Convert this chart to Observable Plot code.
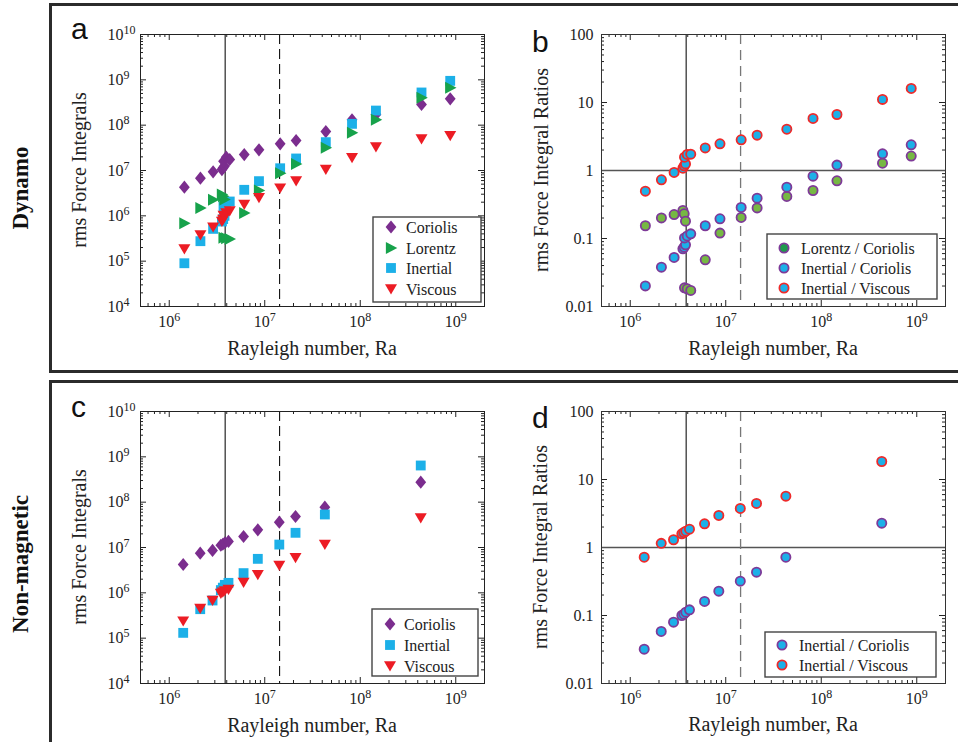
<!DOCTYPE html>
<html><head><meta charset="utf-8">
<script src="https://cdn.jsdelivr.net/npm/d3@7"></script>
<script src="https://cdn.jsdelivr.net/npm/@observablehq/plot@0.6"></script>
<style>
body{margin:0;background:#fff;}
#root{position:relative;width:958px;height:742px;overflow:hidden;background:#fff;font-family:"Liberation Serif","Times New Roman",serif;}
.frame{position:absolute;border:3px solid #2b2b2b;box-sizing:border-box;}
.panel{position:absolute;}
#overlay{position:absolute;left:0;top:0;pointer-events:none;}
</style></head><body>
<div id="root">
<div class="frame" style="left:49px;top:3px;width:940px;height:370px"></div>
<div class="frame" style="left:49px;top:380px;width:940px;height:420px"></div>
<div class="panel" id="pa" style="left:60px;top:0px"></div>
<div class="panel" id="pb" style="left:500px;top:0px"></div>
<div class="panel" id="pc" style="left:60px;top:377px"></div>
<div class="panel" id="pd" style="left:500px;top:377px"></div>
<svg id="overlay" width="958" height="742"></svg>
</div>
<script>
// ---------------- data ----------------
const raTicks = [1e6, 1e7, 1e8, 1e9];
const forceTicks = [1e4, 1e5, 1e6, 1e7, 1e8, 1e9, 1e10];
const ratioTicks = [0.01, 0.1, 1, 10, 100];
const onsetRa = 3.85e6;      // solid vertical line
const transitionRa = 1.43e7; // dashed vertical line

// Dynamo cases
const raDynamo     = [1.44e6, 2.12e6, 2.88e6, 3.56e6, 3.67e6, 3.79e6, 3.70e6, 3.95e6, 4.3e6, 6.1e6, 8.7e6, 1.45e7, 2.13e7, 4.36e7, 8.2e7, 1.46e8, 4.38e8, 8.75e8];
const coriolisDyn  = [4.28e6, 6.78e6, 9.35e6, 1.05e7, 1.15e7, 1.25e7, 1.6e7, 1.97e7, 1.75e7, 2.25e7, 2.86e7, 3.87e7, 4.59e7, 7.24e7, 1.31e8, 1.72e8, 2.86e8, 3.81e8];
const lorentzDyn   = [6.88e5, 1.48e6, 2.25e6, 2.95e6, 2.7e6, 2.3e6, 3.3e5, 3.2e5, 3.1e5, 1.15e6, 3.62e6, 8.73e6, 1.4e7, 3.16e7, 6.78e7, 1.31e8, 4.0e8, 6.67e8];
const inertialDyn  = [9.0e4, 2.76e5, 5.16e5, 7.5e5, 8.5e5, 1.0e6, 1.6e6, 1.97e6, 2.07e6, 3.75e6, 5.82e6, 1.12e7, 1.84e7, 4.22e7, 1.07e8, 2.1e8, 5.26e8, 9.5e8];
const viscousDyn   = [1.84e5, 3.75e5, 5.62e5, 7.5e5, 8.3e5, 9.5e5, 1.02e6, 1.15e6, 1.27e6, 1.78e6, 2.5e6, 4.07e6, 5.82e6, 1.05e7, 1.9e7, 3.27e7, 4.91e7, 5.82e7];
const lorCorDyn    = [0.154, 0.201, 0.225, 0.258, 0.231, 0.180, 0.0188, 0.0182, 0.0172, 0.0486, 0.120, 0.204, 0.282, 0.415, 0.508, 0.705, 1.28, 1.63];
const inCorDyn     = [0.0201, 0.0379, 0.0526, 0.0705, 0.0745, 0.0807, 0.102, 0.109, 0.117, 0.154, 0.195, 0.286, 0.392, 0.569, 0.826, 1.20, 1.76, 2.39];
const inVisDyn     = [0.497, 0.73, 0.935, 1.08, 1.17, 1.25, 1.57, 1.72, 1.74, 2.15, 2.47, 2.83, 3.31, 4.05, 5.82, 6.66, 11.1, 16.1];

// Non-magnetic cases
const raNM        = [1.4e6, 2.11e6, 2.84e6, 3.47e6, 3.64e6, 3.82e6, 4.17e6, 6.0e6, 8.46e6, 1.42e7, 2.1e7, 4.26e7, 4.3e8];
const coriolisNM  = [4.22e6, 7.5e6, 8.6e6, 1.12e7, 1.18e7, 1.26e7, 1.36e7, 1.75e7, 2.45e7, 3.62e7, 4.83e7, 7.74e7, 2.76e8];
const inertialNM  = [1.31e5, 4.36e5, 6.78e5, 1.15e6, 1.3e6, 1.5e6, 1.66e6, 2.72e6, 5.62e6, 1.16e7, 2.11e7, 5.35e7, 6.44e8];
const viscousNM   = [2.37e5, 4.51e5, 6.78e5, 9.6e5, 1.03e6, 1.1e6, 1.18e6, 1.69e6, 2.49e6, 4.0e6, 5.92e6, 1.16e7, 4.44e7];
const inCorNM     = [0.032, 0.0582, 0.0798, 0.100, 0.1047, 0.112, 0.121, 0.161, 0.228, 0.320, 0.434, 0.72, 2.28];
const inVisNM     = [0.72, 1.15, 1.30, 1.59, 1.66, 1.74, 1.86, 2.23, 2.96, 3.75, 4.44, 5.69, 18.4];

// ---------------- styling ----------------
const PURPLE = "#7b2d8e", GREEN = "#17a24b", CYAN = "#1cb0e8", RED = "#ec1c24";
const RING_PURPLE = "#7e3a98", LGREEN = "#76b843", DGREEN = "#1e9a4c", RING_RED = "#ee2a2a";
const raDomain = [5e5, 2e9], forceDomain = [1e4, 1e10], ratioDomain = [0.01, 100];
const PW = 344, PH = 272;

const diamond = {draw(c, s){const r=Math.sqrt(s/Math.PI),w=0.9*r,h=1.1*r;c.moveTo(0,-h);c.lineTo(w,0);c.lineTo(0,h);c.lineTo(-w,0);c.closePath();}};
const triRight = {draw(c, s){const r=Math.sqrt(s/Math.PI);c.moveTo(-0.85*r,-r);c.lineTo(1.05*r,0);c.lineTo(-0.85*r,r);c.closePath();}};
const triDown = {draw(c, s){const r=Math.sqrt(s/Math.PI);c.moveTo(-r,-0.8*r);c.lineTo(r,-0.8*r);c.lineTo(0,0.9*r);c.closePath();}};
const square = {draw(c, s){const r=Math.sqrt(s/Math.PI),h=0.82*r;c.rect(-h,-h,2*h,2*h);}};

const rows = (xs, ys) => xs.map((x, i) => ({ra: x, v: ys[i]}));
function logMinor([lo, hi]) {
  const out = [];
  for (let k = Math.floor(Math.log10(lo)); k <= Math.ceil(Math.log10(hi)); k++)
    for (let m = 2; m <= 9; m++) { const v = m * Math.pow(10, k); if (v > lo && v < hi) out.push(v); }
  return out;
}
const pow10 = d => "10^" + Math.round(Math.log10(d));

function boxTicks(yDomain, yMajor) {
  const xMinor = logMinor(raDomain), yMinor = logMinor(yDomain);
  const st = {stroke: "#222", strokeWidth: 1};
  return [
    Plot.tickX(raTicks, {x: d => d, insetTop: PH - 6, ...st}),
    Plot.tickX(raTicks, {x: d => d, insetBottom: PH - 6, ...st}),
    Plot.tickX(xMinor, {x: d => d, insetTop: PH - 3, ...st}),
    Plot.tickX(xMinor, {x: d => d, insetBottom: PH - 3, ...st}),
    Plot.tickY(yMajor, {y: d => d, insetRight: PW - 6, ...st}),
    Plot.tickY(yMajor, {y: d => d, insetLeft: PW - 6, ...st}),
    Plot.tickY(yMinor, {y: d => d, insetRight: PW - 3, ...st}),
    Plot.tickY(yMinor, {y: d => d, insetLeft: PW - 3, ...st})
  ];
}

const baseStyle = {fontFamily: '"Liberation Serif","Times New Roman",serif', fontSize: "16px", color: "#222", background: "transparent", overflow: "visible"};

function supify(svg) {
  const NS = "http://www.w3.org/2000/svg";
  svg.querySelectorAll("text").forEach(t => {
    const m = t.textContent.match(/^10\^(-?\d+)$/);
    if (m) {
      t.textContent = "10";
      const ts = document.createElementNS(NS, "tspan");
      ts.setAttribute("dy", "-6");
      ts.setAttribute("font-size", "12");
      ts.textContent = m[1];
      t.appendChild(ts);
    }
  });
  return svg;
}

function forcePlot(height, mb, series) {
  return supify(Plot.plot({
    width: 440, height, marginLeft: 80, marginRight: 16, marginTop: 34, marginBottom: mb,
    x: {type: "log", domain: raDomain}, y: {type: "log", domain: forceDomain},
    style: baseStyle,
    marks: [
      ...boxTicks(forceDomain, forceTicks),
      Plot.ruleX([onsetRa], {stroke: "#111", strokeWidth: 1.1}),
      Plot.ruleX([transitionRa], {stroke: "#111", strokeWidth: 1.1, strokeDasharray: "10,5"}),
      ...series.map(s => Plot.dot(rows(s.ra, s.v), {x: "ra", y: "v", symbol: s.symbol, r: 6, fill: s.fill})),
      Plot.frame({stroke: "#222", strokeWidth: 1}),
      Plot.axisX(raTicks, {anchor: "bottom", tickSize: 0, tickPadding: 9, tickFormat: pow10, label: null}),
      Plot.axisY(forceTicks, {anchor: "left", tickSize: 0, tickPadding: 33, textAnchor: "start", tickFormat: pow10, label: null})
    ]
  }));
}

function ratioPlot(height, mb, series) {
  return supify(Plot.plot({
    width: 458, height, marginLeft: 101, marginRight: 13, marginTop: 34, marginBottom: mb,
    x: {type: "log", domain: raDomain}, y: {type: "log", domain: ratioDomain},
    style: baseStyle,
    marks: [
      ...boxTicks(ratioDomain, ratioTicks),
      Plot.ruleY([1], {stroke: "#555", strokeWidth: 1.5}),
      Plot.ruleX([onsetRa], {stroke: "#111", strokeWidth: 1.1}),
      Plot.ruleX([transitionRa], {stroke: "#777", strokeWidth: 1.3, strokeDasharray: "10,6"}),
      ...series.map(s => Plot.dot(rows(s.ra, s.v), {x: "ra", y: "v", r: 4.6, fill: s.fill, stroke: s.stroke, strokeWidth: 1.8})),
      Plot.frame({stroke: "#333", strokeWidth: 1}),
      Plot.axisX(raTicks, {anchor: "bottom", tickSize: 0, tickPadding: 9, tickFormat: pow10, label: null}),
      Plot.axisY(ratioTicks, {anchor: "left", tickSize: 0, tickPadding: 8, tickFormat: d => String(d), label: null})
    ]
  }));
}

document.getElementById("pa").appendChild(forcePlot(370, 64, [
  {ra: raDynamo, v: coriolisDyn, symbol: diamond, fill: PURPLE},
  {ra: raDynamo, v: inertialDyn, symbol: square, fill: CYAN},
  {ra: raDynamo, v: lorentzDyn, symbol: triRight, fill: GREEN},
  {ra: raDynamo, v: viscousDyn, symbol: triDown, fill: RED}
]));
document.getElementById("pb").appendChild(ratioPlot(370, 64, [
  {ra: raDynamo, v: inVisDyn, fill: CYAN, stroke: RING_RED},
  {ra: raDynamo, v: lorCorDyn, fill: LGREEN, stroke: RING_PURPLE},
  {ra: raDynamo, v: inCorDyn, fill: CYAN, stroke: RING_PURPLE}
]));
document.getElementById("pc").appendChild(forcePlot(365, 59, [
  {ra: raNM, v: coriolisNM, symbol: diamond, fill: PURPLE},
  {ra: raNM, v: inertialNM, symbol: square, fill: CYAN},
  {ra: raNM, v: viscousNM, symbol: triDown, fill: RED}
]));
document.getElementById("pd").appendChild(ratioPlot(365, 59, [
  {ra: raNM, v: inVisNM, fill: CYAN, stroke: RING_RED},
  {ra: raNM, v: inCorNM, fill: CYAN, stroke: RING_PURPLE}
]));

// ---------------- overlay: titles, letters, legends ----------------
const ov = d3.select("#overlay");
const serif = '"Liberation Serif","Times New Roman",serif';
const sans = '"Liberation Sans",Arial,sans-serif';
[["a",71,39],["b",532,52],["c",71,417],["d",532,428]].forEach(([t,x,y]) =>
  ov.append("text").attr("x", x).attr("y", y).attr("font-family", sans).attr("font-size", 30).attr("fill", "#111").text(t));
[[312,355],[773,355],[312,732],[773,731]].forEach(([x,y]) =>
  ov.append("text").attr("x", x).attr("y", y).attr("text-anchor", "middle").attr("font-family", serif).attr("font-size", 20).attr("fill", "#222").text("Rayleigh number, Ra"));
[["rms Force Integrals",86,170],["rms Force Integral Ratios",548,170],["rms Force Integrals",86,547],["rms Force Integral Ratios",547,547]].forEach(([t,x,y]) =>
  ov.append("text").attr("transform", `translate(${x},${y}) rotate(-90)`).attr("text-anchor", "middle").attr("font-family", serif).attr("font-size", 20).attr("fill", "#222").text(t));
[["Dynamo",28,188],["Non-magnetic",28,564]].forEach(([t,x,y]) =>
  ov.append("text").attr("transform", `translate(${x},${y}) rotate(-90)`).attr("text-anchor", "middle").attr("font-family", serif).attr("font-weight", "bold").attr("font-size", 23).attr("fill", "#111").text(t));

function legend(box, symX, textX, entries) {
  const [x0, y0, x1, y1] = box;
  ov.append("rect").attr("x", x0).attr("y", y0).attr("width", x1 - x0).attr("height", y1 - y0)
    .attr("fill", "#fff").attr("stroke", "#444").attr("stroke-width", 1.4);
  entries.forEach(e => {
    if (e.symbol) {
      ov.append("path").attr("transform", `translate(${symX},${e.y})`)
        .attr("d", d3.symbol(e.symbol, 36 * Math.PI)()).attr("fill", e.fill);
    } else {
      ov.append("circle").attr("cx", symX).attr("cy", e.y).attr("r", 4.6)
        .attr("fill", e.fill).attr("stroke", e.stroke).attr("stroke-width", 1.8);
    }
    ov.append("text").attr("x", textX).attr("y", e.y).attr("dy", "0.35em").attr("font-family", serif)
      .attr("font-size", 16).attr("fill", "#222").text(e.label);
  });
}
legend([373,217,481,302], 391, 406, [
  {label: "Coriolis", y: 227, symbol: diamond, fill: PURPLE},
  {label: "Lorentz", y: 248, symbol: triRight, fill: GREEN},
  {label: "Inertial", y: 268, symbol: square, fill: CYAN},
  {label: "Viscous", y: 289, symbol: triDown, fill: RED}
]);
legend([767,234,937,299], 784, 801, [
  {label: "Lorentz / Coriolis", y: 248, fill: DGREEN, stroke: RING_PURPLE},
  {label: "Inertial / Coriolis", y: 268, fill: CYAN, stroke: RING_PURPLE},
  {label: "Inertial / Viscous", y: 288, fill: CYAN, stroke: RING_RED}
]);
legend([372,609,478,676], 390, 404, [
  {label: "Coriolis", y: 624, symbol: diamond, fill: PURPLE},
  {label: "Inertial", y: 645, symbol: square, fill: CYAN},
  {label: "Viscous", y: 666, symbol: triDown, fill: RED}
]);
legend([765,632,936,677], 782, 799, [
  {label: "Inertial / Coriolis", y: 645, fill: CYAN, stroke: RING_PURPLE},
  {label: "Inertial / Viscous", y: 665, fill: CYAN, stroke: RING_RED}
]);
</script>
</body></html>
